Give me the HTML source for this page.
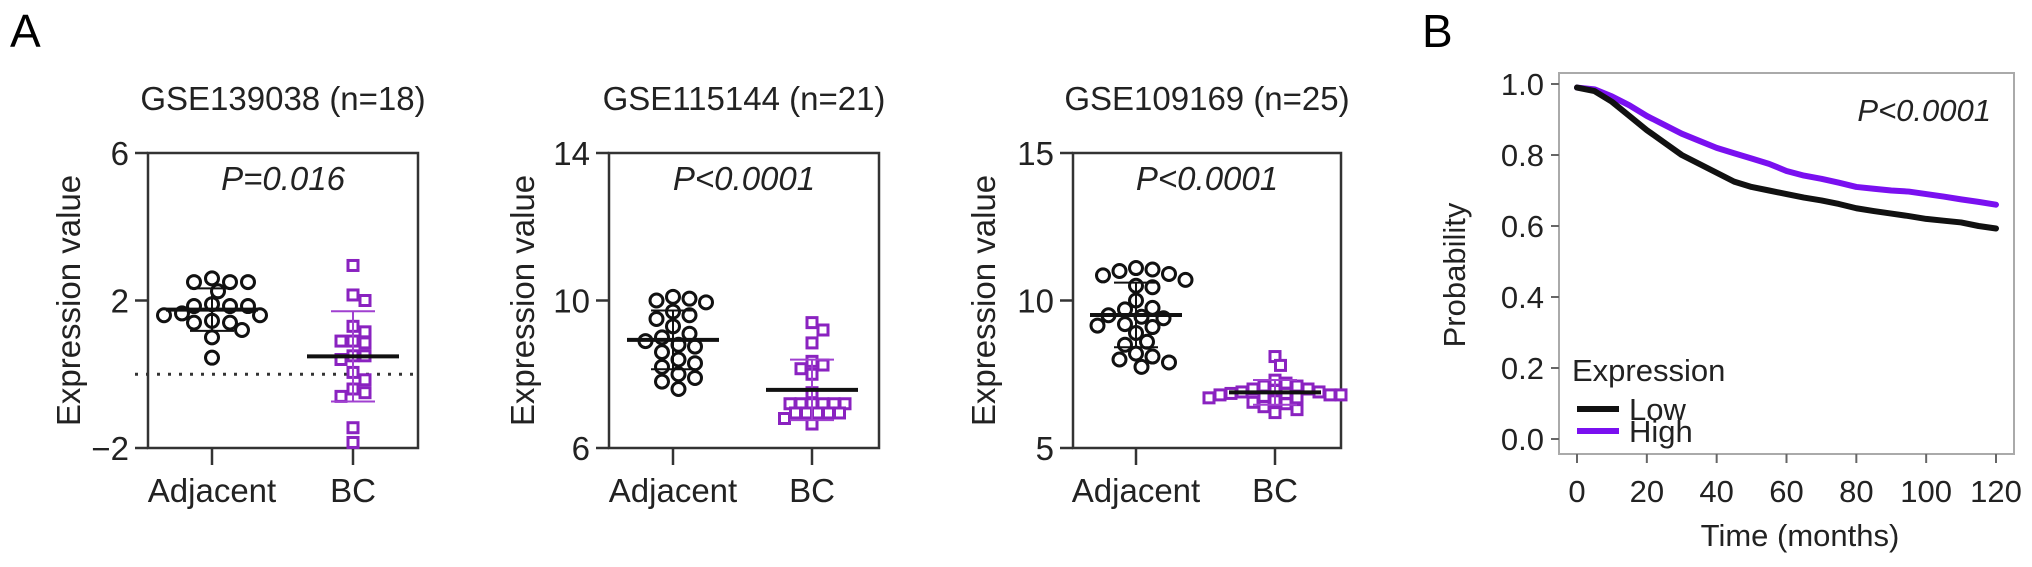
<!DOCTYPE html>
<html><head><meta charset="utf-8">
<style>
html,body{margin:0;padding:0;background:#fff;}
svg{display:block;font-family:"Liberation Sans",Arial,sans-serif;}
</style></head>
<body>
<svg id="fig" width="2032" height="567" viewBox="0 0 2032 567" xmlns="http://www.w3.org/2000/svg">
<text x="10" y="47" font-size="46">A</text>
<text x="1422" y="47" font-size="46">B</text>
</svg>
<script>
// Panel A data
const groups = ["Adjacent","BC"];
const p1Adj = [2.6,2.5,2.5,2.5,2.25,1.9,1.85,1.85,1.85,1.65,1.6,1.6,1.45,1.4,1.4,1.2,1.0,0.45];
const p1BC = [2.95,2.15,2.0,1.3,1.15,0.9,0.9,0.85,0.5,0.5,0.4,0.05,-0.15,-0.4,-0.5,-0.6,-1.45,-1.85];
const p1Ticks = [-2,2,6];
const p2Adj = [10.1,10.05,10.0,9.95,9.7,9.6,9.5,9.3,9.1,9.0,8.9,8.8,8.75,8.6,8.4,8.3,8.2,8.0,7.9,7.8,7.6];
const p2BC = [9.4,9.2,8.85,8.35,8.25,8.15,8.0,7.5,7.2,7.2,7.2,7.2,7.2,7.2,6.95,6.95,6.95,6.95,6.95,6.8,6.65];
const p2Ticks = [6,10,14];
const p3Adj = [11.1,11.05,11.0,10.9,10.85,10.7,10.5,10.45,10.0,9.75,9.7,9.5,9.45,9.4,9.2,9.15,9.1,8.9,8.6,8.5,8.2,8.1,8.0,7.9,7.75];
const p3BC = [8.1,7.8,7.3,7.2,7.1,7.1,7.0,7.0,6.95,6.9,6.9,6.85,6.85,6.8,6.8,6.8,6.75,6.7,6.7,6.6,6.55,6.5,6.4,6.3,6.2];
const p3Ticks = [5,10,15];
// Panel B data
const kmTimes = [0,5,10,15,20,25,30,35,40,45,50,55,60,65,70,75,80,85,90,95,100,105,110,115,120];
const kmLow = [0.99,0.98,0.95,0.91,0.87,0.835,0.80,0.775,0.75,0.725,0.71,0.70,0.69,0.68,0.672,0.662,0.65,0.642,0.635,0.628,0.62,0.615,0.61,0.60,0.593];
const kmHigh = [0.99,0.985,0.965,0.94,0.91,0.885,0.86,0.84,0.82,0.805,0.79,0.775,0.755,0.742,0.733,0.722,0.71,0.705,0.70,0.697,0.69,0.683,0.675,0.668,0.66];
const kmYTicks = [0,0.2,0.4,0.6,0.8,1.0];
const kmXTicks = [0,20,40,60,80,100,120];

const NS="http://www.w3.org/2000/svg";
const svg=document.getElementById('fig');
function mk(tag,attrs,parent){const e=document.createElementNS(NS,tag);for(const k in attrs)e.setAttribute(k,attrs[k]);(parent||svg).appendChild(e);return e;}

function panel(cfg){
  const g=mk('g',{});
  
  
  const {x0,x1,yTop,yBot,ymin,ymax}=cfg;
  const ys=v=>yBot-(v-ymin)/(ymax-ymin)*(yBot-yTop);
  const frame=mk('rect',{x:x0,y:yTop,width:x1-x0,height:yBot-yTop,fill:'none',stroke:'#333','stroke-width':2.5},g);
  
  
  cfg.ticks.forEach(t=>{
    const y=ys(t);
    mk('line',{x1:x0-13,x2:x0,y1:y,y2:y,stroke:'#333','stroke-width':2.5},g);
    const tx=mk('text',{x:x0-19,y:y+12,'font-size':33,'text-anchor':'end',fill:'#222'},g);
    tx.textContent=(t<0?'\u2212'+Math.abs(t):t);
    
    
  });
  const yl=mk('text',{transform:`translate(${cfg.ylx},${(yTop+yBot)/2}) rotate(-90)`,'font-size':33,'text-anchor':'middle',fill:'#222'},g);
  yl.textContent='Expression value';
  
  
  const ti=mk('text',{x:(x0+x1)/2,y:110,'font-size':33,'text-anchor':'middle',fill:'#222'},g);
  ti.textContent=cfg.title;
  
  
  const pv=mk('text',{x:(x0+x1)/2,y:190,'font-size':33,'font-style':'italic','text-anchor':'middle',fill:'#222'},g);
  pv.textContent=cfg.p;
  
  
  if(cfg.zero){
    const zl=mk('line',{x1:x0-13,x2:x1,y1:ys(0),y2:ys(0),stroke:'#333','stroke-width':3,'stroke-dasharray':'3 8'},g);
    
    
  }
  const cx=[cfg.cAdj,cfg.cBC];
  groups.forEach((gname,i)=>{
    mk('line',{x1:cx[i],x2:cx[i],y1:yBot,y2:yBot+17,stroke:'#333','stroke-width':2.5},g);
    const lt=mk('text',{x:cx[i],y:502,'font-size':33,'text-anchor':'middle',fill:'#222'},g);
    lt.textContent=gname;
    
    
  });
  [cfg.adj,cfg.bc].forEach((data,i)=>{
    const col=i===0?'#111':'#8a22c0';
    const minD=i===0?14:10;
    const placed=[];
    const sorted=data.slice().sort((a,b)=>b-a);
    sorted.forEach(v=>{
      const y=ys(v);
      let off=0;
      for(let k=0;k<60;k++){
        const cand=k===0?0:(k%2?1:-1)*Math.ceil(k/2)*cfg.step;
        const ok=placed.every(p=>Math.hypot(p[0]-cand,p[1]-y)>=minD);
        if(ok){off=cand;break;}
      }
      placed.push([off,y]);
    });
    const m=data.reduce((a,b)=>a+b,0)/data.length;
    const sd=Math.sqrt(data.reduce((a,b)=>a+(b-m)*(b-m),0)/(data.length-1));
    placed.forEach(([off,y])=>{
      let el;
      if(i===0){el=mk('circle',{cx:cx[i]+off,cy:y,r:6.5,fill:'none',stroke:col,'stroke-width':3},g);}
      else{el=mk('rect',{x:cx[i]+off-5,y:y-5,width:10,height:10,fill:'#fff',stroke:col,'stroke-width':3},g);}
      
    });
    const ec=i===0?'#111':'#a040d0';
    const sdLine=mk('path',{d:`M${cx[i]} ${ys(m+sd)}V${ys(m-sd)}M${cx[i]-22} ${ys(m+sd)}h44M${cx[i]-22} ${ys(m-sd)}h44`,stroke:ec,'stroke-width':2,fill:'none'},g);
    
    
    const ml=mk('line',{x1:cx[i]-46,x2:cx[i]+46,y1:ys(m),y2:ys(m),stroke:'#111','stroke-width':4},g);
    
    
  });
}
panel({name:'gse139038-plot',x0:148,x1:418,yTop:153,yBot:448,ymin:-2,ymax:6,ticks:p1Ticks,ylx:80,title:'GSE139038 (n=18)',p:'P=0.016',zero:true,cAdj:212,cBC:353,adj:p1Adj,bc:p1BC,step:6});
panel({name:'gse115144-plot',x0:609,x1:879,yTop:153,yBot:448,ymin:6,ymax:14,ticks:p2Ticks,ylx:534,title:'GSE115144 (n=21)',p:'P<0.0001',zero:false,cAdj:673,cBC:812,adj:p2Adj,bc:p2BC,step:5.5});
panel({name:'gse109169-plot',x0:1073,x1:1341,yTop:153,yBot:448,ymin:5,ymax:15,ticks:p3Ticks,ylx:995,title:'GSE109169 (n=25)',p:'P<0.0001',zero:false,cAdj:1136,cBC:1275,adj:p3Adj,bc:p3BC,step:5.5});

// Panel B
(function(){
  const g=mk('g',{});
  
  
  const X0=1559,X1=2014,YT=73,YB=454;
  const xs=t=>1577+t/120*(1996-1577);
  const ys=p=>439-p*(439-84);
  const fr=mk('rect',{x:X0,y:YT,width:X1-X0,height:YB-YT,fill:'none',stroke:'#aaa','stroke-width':2},g);
  
  
  kmYTicks.forEach(t=>{
    mk('line',{x1:X0-8,x2:X0,y1:ys(t),y2:ys(t),stroke:'#666','stroke-width':2},g);
    const tx=mk('text',{x:X0-15,y:ys(t)+11,'font-size':31,'text-anchor':'end',fill:'#222'},g);
    tx.textContent=t.toFixed(1);
    
    
  });
  kmXTicks.forEach(t=>{
    mk('line',{x1:xs(t),x2:xs(t),y1:YB,y2:YB+9,stroke:'#666','stroke-width':2},g);
    const tx=mk('text',{x:xs(t),y:502,'font-size':31,'text-anchor':'middle',fill:'#222'},g);
    tx.textContent=t;
    
    
  });
  const yl=mk('text',{transform:`translate(1465,275) rotate(-90)`,'font-size':31,'text-anchor':'middle',fill:'#222'},g);
  yl.textContent='Probability';
  
  
  const xl=mk('text',{x:1800,y:546,'font-size':31,'text-anchor':'middle',fill:'#222'},g);
  xl.textContent='Time (months)';
  
  
  const pv=mk('text',{x:1991,y:121,'font-size':31,'font-style':'italic','text-anchor':'end',fill:'#222'},g);
  pv.textContent='P<0.0001';
  
  
  [[kmHigh,'#7a10f0','high-expression-curve'],[kmLow,'#111','low-expression-curve']].forEach(([d,c,n])=>{
    const pts=kmTimes.map((t,i)=>`${xs(t)},${ys(d[i])}`).join(' ');
    const pl=mk('polyline',{points:pts,fill:'none',stroke:c,'stroke-width':6,'stroke-linejoin':'round','stroke-linecap':'round'},g);
    
    
  });
  const lg=mk('g',{},g);
  
  
  const lt=mk('text',{x:1572,y:381,'font-size':31,fill:'#222'},lg);
  lt.textContent='Expression';
  
  
  [['Low','#111',409],['High','#7a10f0',431]].forEach(([lab,c,y])=>{
    const e=mk('g',{},lg);
    
    
    mk('line',{x1:1577,x2:1619,y1:y,y2:y,stroke:c,'stroke-width':6},e);
    const t=mk('text',{x:1629,y:y+11,'font-size':31,fill:'#222'},e);
    t.textContent=lab;
  });
})();
</script>
</body></html>
